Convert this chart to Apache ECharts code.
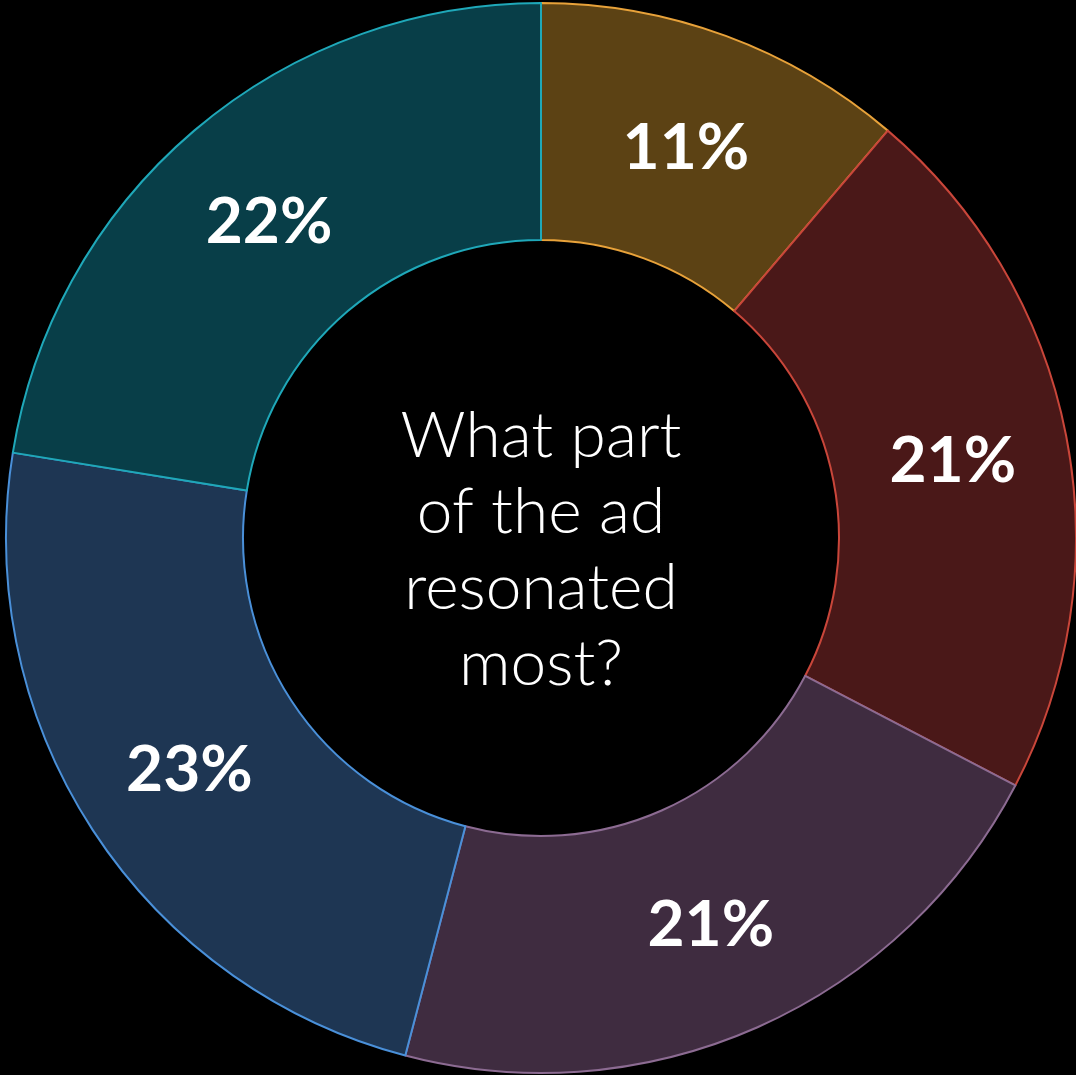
<!DOCTYPE html>
<html>
<head>
<meta charset="utf-8">
<script src="https://cdn.jsdelivr.net/npm/echarts@6/dist/echarts.min.js"></script>
<style>
  html, body { margin: 0; padding: 0; background: #000; }
  #chart { width: 1076px; height: 1075px; }
</style>
</head>
<body>
<div id="chart"></div>
<script>
// Share of answers per slice, clockwise from 12 o'clock
const answerValues = [11, 21, 21, 23, 22];
const sliceFills = ['#5c4214', '#4a1818', '#3f2c40', '#1e3653', '#083e48'];
const sliceEdges = ['#e8a23a', '#c9463a', '#8c6b92', '#4a90d9', '#1fa8b9'];
const centerQuestion = 'What part\nof the ad\nresonated\nmost?';

const chart = echarts.init(document.getElementById('chart'));

chart.setOption({
  backgroundColor: '#000000',
  animation: false,
  series: [{
    type: 'pie',
    center: [541, 538],
    radius: [298, 535],
    startAngle: 90,
    clockwise: true,
    avoidLabelOverlap: false,
    data: answerValues.map((v, i) => ({
      value: v,
      itemStyle: { color: sliceFills[i], borderColor: sliceEdges[i], borderWidth: 2 }
    })),
    label: {
      show: true,
      position: 'inside',
      formatter: p => p.value + '%',
      color: '#ffffff',
      fontFamily: 'Lato, sans-serif',
      fontWeight: 'bold',
      fontSize: 64
    },
    labelLayout: { dy: 4 },
    labelLine: { show: false },
    emphasis: { disabled: true }
  }],
  graphic: [{
    type: 'text',
    x: 541,
    y: 550,
    style: {
      text: centerQuestion,
      fill: '#ffffff',
      font: '300 64px Lato, sans-serif',
      textAlign: 'center',
      textVerticalAlign: 'middle',
      lineHeight: 76
    }
  }]
});
</script>
</body>
</html>
